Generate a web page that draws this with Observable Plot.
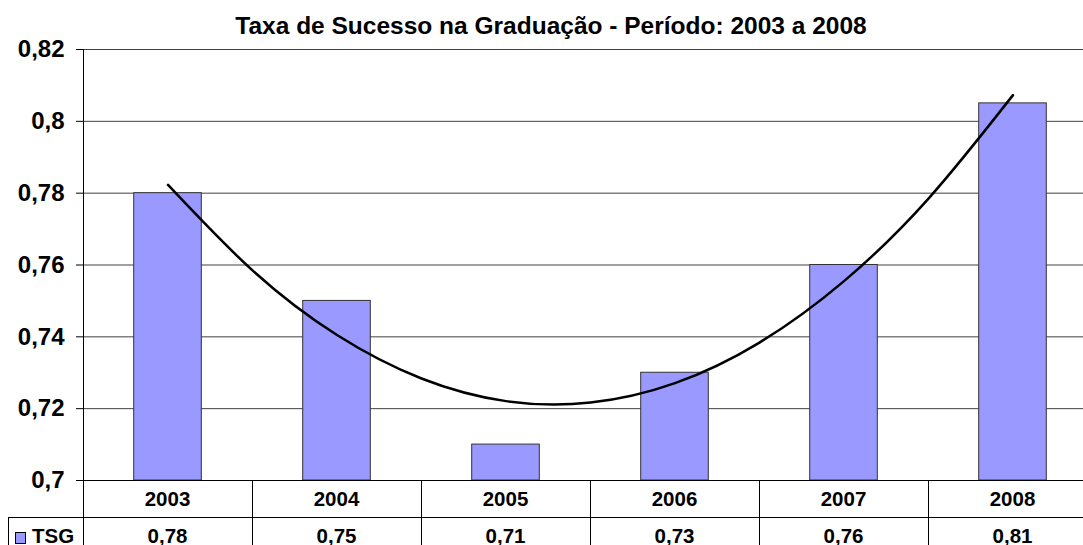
<!DOCTYPE html>
<html><head><meta charset="utf-8">
<script src="https://cdn.jsdelivr.net/npm/d3@7"></script>
<script src="https://cdn.jsdelivr.net/npm/@observablehq/plot@0.6"></script>
<style>
html,body{margin:0;padding:0;background:#fff;}
body{width:1083px;height:545px;overflow:hidden;position:relative;font-family:Arial,"Liberation Sans",sans-serif;}
#title{position:absolute;left:0;top:6px;width:1102px;height:40px;line-height:40px;text-align:center;font-weight:bold;font-size:24.5px;color:#000;white-space:nowrap;}
#chart{position:absolute;left:0;top:40px;width:1100px;}
#chart svg{max-width:none !important;display:block;}
.cell{position:absolute;box-sizing:border-box;text-align:center;font-weight:bold;font-size:20.5px;color:#000;white-space:nowrap;}
.hline{position:absolute;height:0;border-top:1px solid #000;}
.vline{position:absolute;width:0;border-left:1px solid #000;}
</style>
</head><body>
<div id="title"></div>
<div id="chart"></div>
<div id="table"></div>
<script>
const title = "Taxa de Sucesso na Graduação - Período: 2003 a 2008";
const seriesName = "TSG";
const years = ["2003", "2004", "2005", "2006", "2007", "2008"];
const tsg = [0.78, 0.75, 0.71, 0.73, 0.76, 0.805];
const yTicks = [0.7, 0.72, 0.74, 0.76, 0.78, 0.8, 0.82];
// trendline (2nd order polynomial), x = year index
const trendX = [0, 0.5, 1, 1.5, 2, 2.5, 3, 3.5, 4, 4.5, 5];
const trendY = [0.7823, 0.7585, 0.7405, 0.7284, 0.7221, 0.7217, 0.7271, 0.7384, 0.7555, 0.7785, 0.8073];

const bars = years.map((y, i) => ({i, year: y, v: tsg[i]}));
const trend = trendX.map((x, k) => ({x, y: trendY[k]}));
const comma = s => s.replace(".", ",");

document.getElementById("title").textContent = title;

const plot = Plot.plot({
  width: 1097, height: 440,
  marginTop: 9, marginBottom: 0, marginLeft: 83, marginRight: 0,
  style: {fontFamily: "Arial, 'Liberation Sans', sans-serif", fontSize: "24px", fontWeight: "bold", color: "#000", background: "#fff", overflow: "visible"},
  x: {type: "linear", domain: [-0.5, 5.5], axis: null},
  y: {domain: [0.7, 0.82], ticks: yTicks, tickSize: 7, tickPadding: 12, label: null,
      tickFormat: d => comma(d3.format(".2~f")(d))},
  marks: [
    Plot.ruleY(yTicks.slice(1), {stroke: "#404040", strokeWidth: 1}),
    Plot.rectY(bars, {x1: d => d.i - 0.2, x2: d => d.i + 0.2, y1: 0.7, y2: "v",
      fill: "#9999FF", stroke: "#333", strokeWidth: 1}),
    Plot.line(trend, {x: "x", y: "y", curve: "natural", stroke: "#000", strokeWidth: 2.5}),
    Plot.ruleX([-0.5], {stroke: "#000", strokeWidth: 1}),
    Plot.ruleY([0.7], {stroke: "#000", strokeWidth: 1})
  ]
});
document.getElementById("chart").appendChild(plot);

// data table under the chart, columns aligned to the x scale
const xs = plot.scale("x");
const edges = d3.range(years.length + 1).map(k => xs.apply(k - 0.5));
const tbl = document.getElementById("table");
const top0 = 480, rowH = 37;
function add(cls, css, text) {
  const el = document.createElement("div");
  el.className = cls;
  Object.assign(el.style, css);
  if (text != null) el.textContent = text;
  tbl.appendChild(el);
  return el;
}
years.forEach((y, i) => {
  const x0 = edges[i], x1 = edges[i + 1];
  add("cell", {left: x0 + "px", width: (x1 - x0) + "px", top: top0 + "px", height: rowH + "px", lineHeight: rowH + "px"}, y);
  add("cell", {left: x0 + "px", width: (x1 - x0) + "px", top: (top0 + rowH) + "px", height: rowH + "px", lineHeight: rowH + "px"},
      comma(d3.format(".2f")(tsg[i])));
});
// lines
edges.forEach(x => add("vline", {left: Math.round(x) + "px", top: top0 + "px", height: (rowH * 2) + "px"}));
add("hline", {left: "8px", width: "1100px", top: (top0 + rowH) + "px"});
add("vline", {left: "8px", top: (top0 + rowH) + "px", height: rowH + "px"});
// legend cell
const lg = add("cell", {left: "8px", width: (edges[0] - 8) + "px", top: (top0 + rowH) + "px", height: rowH + "px", lineHeight: rowH + "px", textAlign: "left", paddingLeft: "7px"});
const sw = document.createElement("span");
Object.assign(sw.style, {display: "inline-block", width: "9px", height: "10px", background: "#9999FF", border: "1px solid #000", marginRight: "6px", verticalAlign: "-1px"});
lg.appendChild(sw);
lg.appendChild(document.createTextNode(seriesName));
</script>
</body></html>
